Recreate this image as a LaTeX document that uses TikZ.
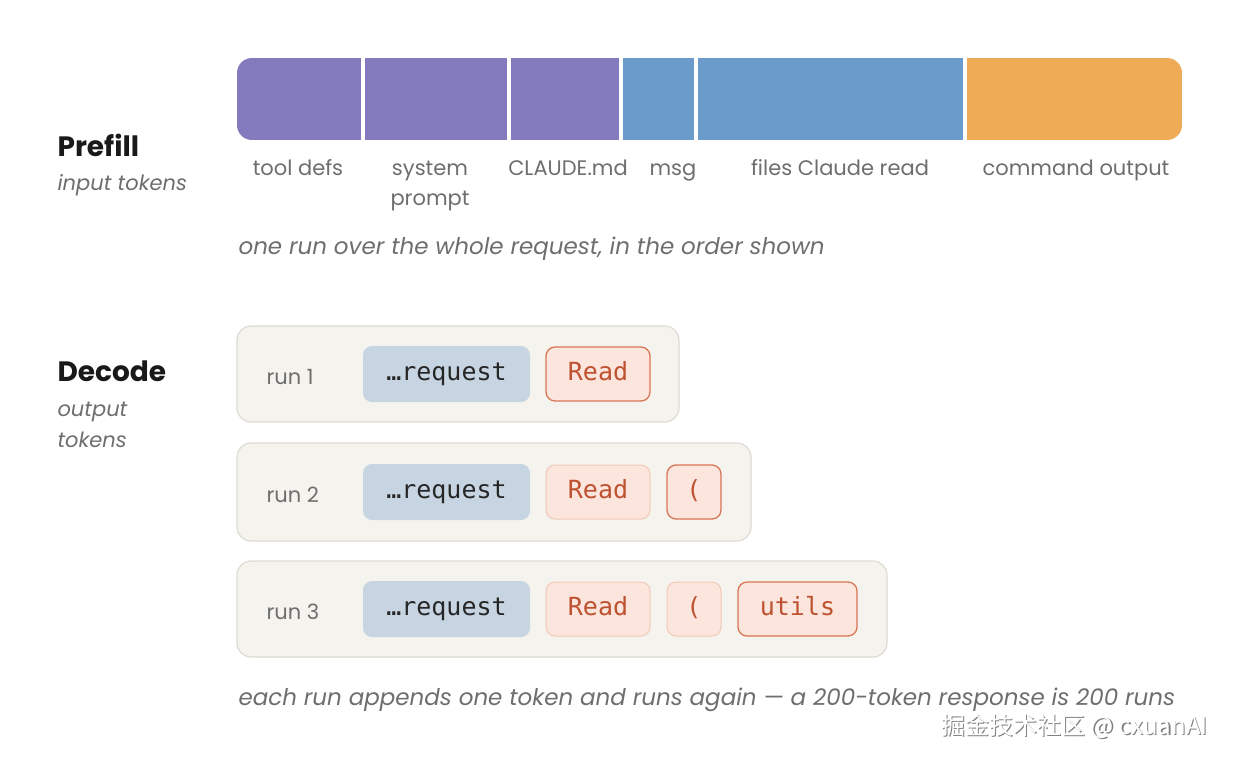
\documentclass[tikz,border=0pt]{standalone}
\usepackage{fontspec}
\setmainfont{Poppins}
\setmonofont{DejaVu Sans Mono}
\newfontfamily\cjk{Noto Sans CJK SC}
\usepackage{xcolor}
\definecolor{purp}{RGB}{131,123,190}
\definecolor{skyb}{RGB}{106,155,203}
\definecolor{amber}{RGB}{239,171,85}
\definecolor{inkgrey}{RGB}{110,110,110}
\definecolor{runfill}{RGB}{245,243,238}
\definecolor{runline}{RGB}{222,219,211}
\definecolor{reqfill}{RGB}{199,213,226}
\definecolor{tokfill}{RGB}{251,229,220}
\definecolor{tokline}{RGB}{217,118,86}
\definecolor{tokfaint}{RGB}{241,201,185}
\definecolor{tokink}{RGB}{190,82,48}
\usepackage{tikz}
\usetikzlibrary{positioning}
\tikzset{
  seglabel/.style={anchor=base, text=inkgrey, font=\fontsize{21}{30}\selectfont, align=center},
  headline/.style={anchor=base west, font=\fontsize{28}{32}\selectfont\bfseries, text=black!90},
  subline/.style={anchor=base west, font=\fontsize{21}{31}\selectfont\itshape, text=inkgrey, align=left},
  caption/.style={anchor=base west, font=\fontsize{23}{28}\selectfont\itshape, text=inkgrey},
  runbox/.style={draw=runline, fill=runfill, line width=1.2pt, rounded corners=14pt},
  runlabel/.style={anchor=base west, font=\fontsize{21}{24}\selectfont, text=inkgrey},
  tokbase/.style={rounded corners=9pt, font=\fontsize{25}{28}\selectfont\ttfamily,
                  text height=17pt, text depth=5pt, inner sep=0pt},
  reqtok/.style={tokbase, fill=reqfill, text=black!85, minimum width=167pt, minimum height=56pt},
  newtok/.style={tokbase, fill=tokfill, draw=tokline, line width=1.3pt, text=tokink, minimum height=54pt},
  oldtok/.style={tokbase, fill=tokfill, draw=tokfaint, line width=1pt, text=tokink, minimum height=54pt},
  wmark/.style={anchor=base west, font=\fontsize{24}{28}\selectfont\cjk}
}

\begin{document}
\begin{tikzpicture}[x=1pt, y=-1pt]
  \useasboundingbox[fill=white] (0,0) rectangle (1240,756);
  % Prefill
  \node[headline] (prefill) at (54,156) {Prefill};
  \node[subline] (prefillsub) at (54,190) {input tokens};
  % request bar
  \begin{scope}
    \clip[rounded corners=15pt] (237,58) rectangle (1182,140);
    \fill[purp] (237,58) rectangle (361,140);
    \fill[purp] (365,58) rectangle (507,140);
    \fill[purp] (511,58) rectangle (619,140);
    \fill[skyb] (623,58) rectangle (694,140);
    \fill[skyb] (698,58) rectangle (963,140);
    \fill[amber] (967,58) rectangle (1182,140);
  \end{scope}
  \node[seglabel] (tooldefs) at (298,175) {tool defs};
  \node[seglabel] (sysprompt) at (430,175) {system};
  \node[seglabel] (sysprompt2) at (430,205) {prompt};
  \node[seglabel] (claudemd) at (568,175) {CLAUDE.md};
  \node[seglabel] (msg) at (673,175) {msg};
  \node[seglabel] (files) at (840,175) {files Claude read};
  \node[seglabel] (cmdout) at (1076,175) {command output};
  \node[caption] (prefillcap) at (235,254) {one run over the whole request, in the order shown};
  % Decode
  \node[headline] (decode) at (54,381) {Decode};
  \node[subline] (decodesub) at (54,416) {output};
  \node[subline] (decodesub2) at (54,447) {tokens};
  % runs
  \node[runbox, minimum width=442pt, minimum height=96pt] (run1) at (458,374) {};
  \node[runbox, minimum width=514pt, minimum height=98pt] (run2) at (494,492) {};
  \node[runbox, minimum width=650pt, minimum height=96pt] (run3) at (562,609) {};
  \foreach \i/\y in {1/374, 2/492, 3/609} {
    \node[runlabel] (lab\i) at (263,\y+10) {run \i};
    \node[reqtok] (req\i) at (446.5,\y) {…request};
  }
  \node[newtok, minimum width=104pt] (read1) at (598,374) {Read};
  \node[oldtok, minimum width=104pt] (read2) at (598,492) {Read};
  \node[newtok, minimum width=54pt] (paren2) at (694,492) {(};
  \node[oldtok, minimum width=104pt] (read3) at (598,609) {Read};
  \node[oldtok, minimum width=54pt] (paren3) at (694,609) {(};
  \node[newtok, minimum width=119pt] (utils3) at (797.5,609) {utils};
  \node[caption] (decodecap) at (235,705)
    {each run appends one token and runs again — a 200-token response is 200 runs};
  % watermark
  \node[wmark, text=black!50] (wmshadow) at (939.2,735.2) {掘金技术社区 @ cxuanAI};
  \node[wmark, text=white] (wm) at (938,734) {掘金技术社区 @ cxuanAI};
\end{tikzpicture}
\end{document}
